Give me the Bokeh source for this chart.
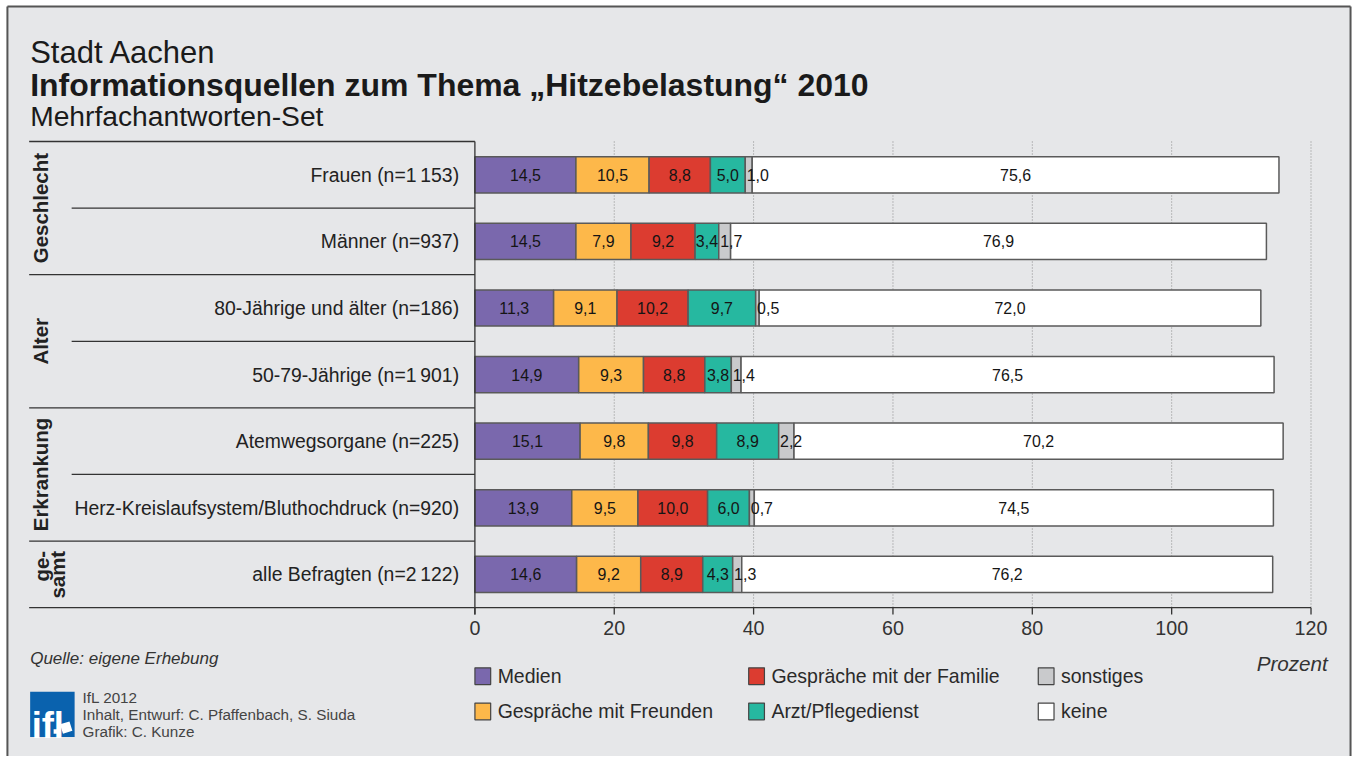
import numpy as np
from bokeh.plotting import figure
from bokeh.models import Range1d, ColumnDataSource
from bokeh.core.properties import value
from bokeh.embed import file_html
from bokeh.resources import INLINE

# ---------------- data ----------------
categories = [
    "Frauen (n=1\u2009153)",
    "Männer (n=937)",
    "80-Jährige und älter (n=186)",
    "50-79-Jährige (n=1\u2009901)",
    "Atemwegsorgane (n=225)",
    "Herz-Kreislaufsystem/Bluthochdruck (n=920)",
    "alle Befragten (n=2\u2009122)",
]
groups = ["Geschlecht", "Alter", "Erkrankung", "ge-\nsamt"]
group_sizes = [2, 2, 2, 1]

series_names = ["Medien", "Gespräche mit Freunden", "Gespräche mit der Familie",
                "Arzt/Pflegedienst", "sonstiges", "keine"]
medien = [14.5, 14.5, 11.3, 14.9, 15.1, 13.9, 14.6]
freunde = [10.5, 7.9, 9.1, 9.3, 9.8, 9.5, 9.2]
familie = [8.8, 9.2, 10.2, 8.8, 9.8, 10.0, 8.9]
arzt = [5.0, 3.4, 9.7, 3.8, 8.9, 6.0, 4.3]
sonstiges = [1.0, 1.7, 0.5, 1.4, 2.2, 0.7, 1.3]
keine = [75.6, 76.9, 72.0, 76.5, 70.2, 74.5, 76.2]
series = [medien, freunde, familie, arzt, sonstiges, keine]
colors = ["#7a68ad", "#fdb84a", "#dc3c30", "#26b8a0", "#c9cacc", "#ffffff"]

x_ticks = [0, 20, 40, 60, 80, 100, 120]

title_top = "Stadt Aachen"
title_main = "Informationsquellen zum Thema \u201eHitzebelastung\u201c 2010"
title_sub = "Mehrfachantworten-Set"
x_label = "Prozent"
source_note = "Quelle: eigene Erhebung"
credits = ["IfL 2012", "Inhalt, Entwurf: C. Pfaffenbach, S. Siuda", "Grafik: C. Kunze"]

# ---------------- layout helpers ----------------
W, H = 1354, 756
REF_W, REF_H = 1370, 772
SF = (W / REF_W + H / REF_H) / 2   # font / screen-size scale
X0, UX = 480.0, 7.05     # layout pixel of x=0, pixels per percent
Y0, UY = 178.0, 68.0     # layout pixel of row 0 centre, pixels per row

def fx(px):
    return (px - X0) / UX

def fy(py):
    return (py - Y0) / UY

def fs(size):
    return f"{size * SF:.2f}px"

BG = "#e6e7e9"
FONT = "Liberation Sans"
TXT = "#222222"

p = figure(width=W, height=H, output_backend="svg", toolbar_location=None, tools="",
           x_range=Range1d(fx(0), fx(REF_W)), y_range=Range1d(fy(REF_H), fy(0)),
           x_axis_location=None, y_axis_location=None, min_border=0,
           background_fill_color="#ffffff", border_fill_color="#ffffff", outline_line_color=None)
p.xgrid.visible = False
p.ygrid.visible = False

def txt(x, y, t, size, align="left", baseline="middle", style="normal", color=TXT, angle=0):
    p.text(x=[x], y=[y], text=[t], text_font=value(FONT), text_font_size=fs(size),
           text_align=align, text_baseline=baseline, text_font_style=style,
           text_color=color, angle=angle)

# panel background and frame (left, top, right)
p.quad(left=[fx(7)], right=[fx(1366)], top=[fy(6)], bottom=[fy(REF_H + 5)],
       fill_color=BG, line_color=None)
p.segment(x0=[fx(7), fx(7), fx(1366)], y0=[fy(REF_H + 5), fy(6), fy(6)],
          x1=[fx(7), fx(1366), fx(1366)], y1=[fy(6), fy(6), fy(REF_H + 5)],
          line_color="#555555", line_width=2)

# titles
txt(fx(30), fy(53), title_top, 31.5, baseline="alphabetic", color="#1a1a1a")
txt(fx(30), fy(86), title_main, 32.5, baseline="alphabetic", style="bold", color="#1a1a1a")
txt(fx(30), fy(118), title_sub, 28.7, baseline="alphabetic", color="#1a1a1a")

n = len(categories)
rows = np.arange(n)

# dotted grid
grid_x = [t for t in x_ticks if t > 0]
p.segment(x0=grid_x, y0=[-0.5] * len(grid_x), x1=grid_x, y1=[n - 0.5] * len(grid_x),
          line_color="#8a8a8a", line_width=1, line_dash="1 2")

# stacked bars
vals = np.array(series)             # (6, n)
right = np.cumsum(vals, axis=0)
left = right - vals
bar_h = 37 / UY
for k in range(len(series)):
    src = ColumnDataSource(dict(y=rows, left=left[k], right=right[k]))
    p.hbar(y="y", left="left", right="right", height=bar_h, source=src,
           fill_color=colors[k], line_color="#5a5a5a", line_width=1.5)

# value labels
def fmt(v):
    return f"{v:.1f}".replace(".", ",")

lx, ly, lt, la = [], [], [], []
for k in range(len(series)):
    for i in range(n):
        if series_names[k] == "sonstiges":
            lx.append(left[k][i] + 0.2)
            la.append("left")
        else:
            lx.append((left[k][i] + right[k][i]) / 2)
            la.append("center")
        ly.append(i)
        lt.append(fmt(vals[k][i]))
p.text(x=lx, y=ly, text=lt, text_align=la, text_baseline="middle",
       text_font=value(FONT), text_font_size=fs(16.2), text_color="#151515")

# category labels
p.text(x=[fx(464)] * n, y=rows, text=categories, text_align="right", text_baseline="middle",
       text_font=value(FONT), text_font_size=fs(19.7), text_color=TXT)

# left panel lines
top_edge = -0.5
p.segment(x0=[fx(29)], y0=[top_edge], x1=[0], y1=[top_edge], line_color="#333333", line_width=1.3)
start = 0
for g, s in zip(groups, group_sizes):
    for j in range(1, s):
        yy = start + j - 0.5
        p.segment(x0=[fx(72)], y0=[yy], x1=[0], y1=[yy], line_color="#333333", line_width=1.3)
    yb = start + s - 0.5
    p.segment(x0=[fx(29)], y0=[yb], x1=[0], y1=[yb], line_color="#333333", line_width=1.3)
    mid = start + (s - 1) / 2
    if "\n" in g:
        a, b = g.split("\n")
        yend = start - 0.5 + 10 / UY
        txt(fx(41), yend, a, 20.8, align="right", style="bold", angle=np.pi / 2)
        txt(fx(58), yend, b, 20.8, align="right", style="bold", angle=np.pi / 2)
    else:
        txt(fx(40), mid, g, 20.8, align="center", style="bold", angle=np.pi / 2)
    start += s

# x axis (drawn through the data scale)
p.segment(x0=[0], y0=[top_edge], x1=[0], y1=[fy(627)], line_color="#333333", line_width=1.3)
p.segment(x0=[0], y0=[n - 0.5], x1=[x_ticks[-1]], y1=[n - 0.5], line_color="#333333", line_width=1.3)
p.segment(x0=x_ticks, y0=[n - 0.5] * len(x_ticks), x1=x_ticks, y1=[fy(627)] * len(x_ticks),
          line_color="#333333", line_width=1.3)
p.text(x=x_ticks, y=[fy(641)] * len(x_ticks), text=[str(t) for t in x_ticks],
       text_align="center", text_baseline="middle", text_font=value(FONT),
       text_font_size=fs(20), text_color="#333333")
txt(fx(1343), fy(677), x_label, 21, align="right", style="italic", color="#333333")

# legend
leg_cols = [488, 765, 1058]
leg_rows = [690, 726]
for k, name in enumerate(series_names):
    c, r = divmod(k, 2)
    sx, sy = fx(leg_cols[c]), fy(leg_rows[r])
    p.rect(x=[sx], y=[sy], width=16 * SF, height=17 * SF, width_units="screen", height_units="screen",
           fill_color=colors[k], line_color="#444444", line_width=1.2)
    txt(fx(leg_cols[c] + 15), sy, name, 19.8, color="#2a2a2a")

# source + credits
txt(fx(30), fy(672), source_note, 17.3, style="italic", color="#333333")
for j, line in enumerate(credits):
    txt(fx(83), fy(712 + 17 * j), line, 15.5, color="#444444")

# logo
p.quad(left=[fx(30)], right=[fx(75)], top=[fy(706)], bottom=[fy(752)],
       fill_color="#0a62ae", line_color=None)
txt(fx(31.5), fy(740), "ifl", 37, style="bold", color="#ffffff")
p.rect(x=[fx(66.5)], y=[fy(742.5)], width=10 * SF, height=10 * SF, angle=0.3,
       width_units="screen", height_units="screen", fill_color="#ffffff", line_color=None)
p.rect(x=[fx(56)], y=[fy(746.5)], width=4.5 * SF, height=4.5 * SF,
       width_units="screen", height_units="screen", fill_color="#ffffff", line_color=None)

open("out.html", "w").write(file_html(p, INLINE))
